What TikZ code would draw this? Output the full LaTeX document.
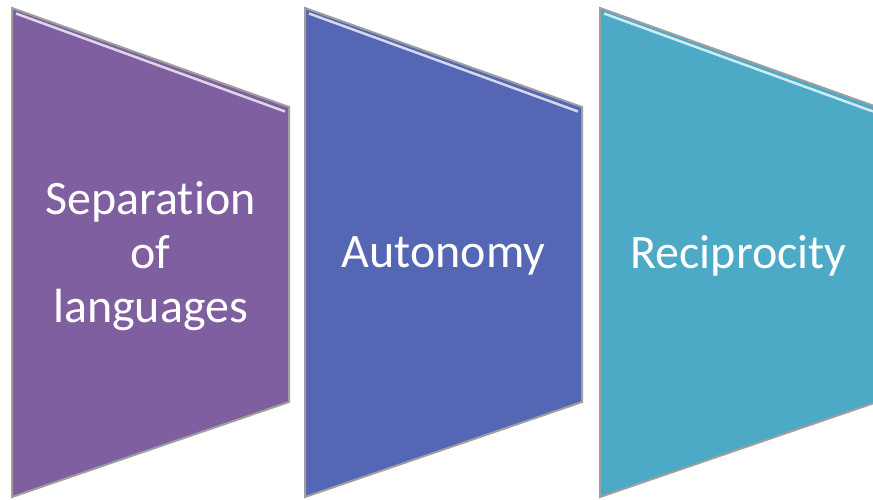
\documentclass[tikz,border=0pt]{standalone}
\usepackage{fontspec}
\setmainfont{Carlito}[Ligatures={NoCommon,NoContextual}]
\definecolor{stepPurple}{RGB}{127,95,160}
\definecolor{stepBlue}{RGB}{85,102,180}
\definecolor{stepTeal}{RGB}{76,170,199}
\begin{document}
\begin{tikzpicture}[x=1pt,y=-1pt,
   every node/.style={font=\fontsize{48}{54}\selectfont,align=center,text=white},
   panel/.style={draw=gray!75,line width=2pt,line join=miter}]
  \useasboundingbox (0,0) rectangle (873,499);
  \clip (0,0) rectangle (873,499);
  % three tapering panels, left to right
  \foreach \x/\c/\n/\t in {12/stepPurple/sep/{Separation\\of\\languages},
                           305/stepBlue/aut/Autonomy,
                           600/stepTeal/rec/Reciprocity} {
    \fill[\c,panel] (\x,8) -- ++(277,99) -- ++(0,295) -- ++(-277,95) -- cycle;
    \draw[\c!25!white,line width=2.5pt] (\x+4,13.5) -- (\x+273,111.5);
    \node (\n) at (\x+138.5,256) {\t};
  }
\end{tikzpicture}
\end{document}
